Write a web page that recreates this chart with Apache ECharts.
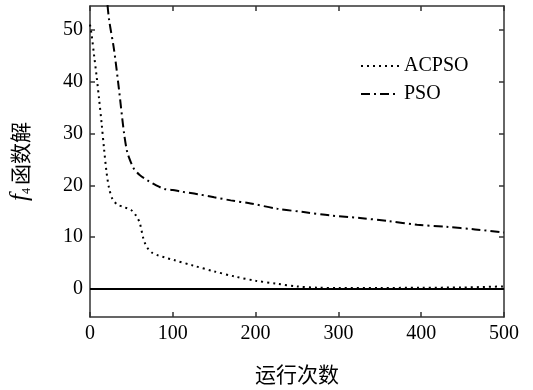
<!DOCTYPE html>
<html>
<head>
<meta charset="utf-8">
<script src="https://cdn.jsdelivr.net/npm/echarts@6/dist/echarts.min.js"></script>
<style>
html,body{margin:0;padding:0;background:#fff;}
#c{width:533px;height:390px;}
</style>
</head>
<body>
<div id="c"></div>
<script>
// Data
const acpsoX = [0, 2, 5, 8, 11, 14, 17, 20, 23, 27, 33, 41, 50, 55, 60, 64, 67, 70, 75, 82, 90, 101, 125, 150, 175, 200, 226, 250, 275, 300, 350, 400, 450, 500];
const acpsoY = [51, 49, 45, 41, 36.6, 32, 27, 22.5, 19.5, 17.4, 16.3, 15.8, 15.2, 14.3, 12.8, 10, 8.6, 7.8, 7.0, 6.5, 6.1, 5.6, 4.5, 3.4, 2.4, 1.6, 1.0, 0.5, 0.25, 0.2, 0.2, 0.25, 0.3, 0.5];
const psoX = [15, 20, 23, 29, 35, 41, 45, 50, 53, 60, 70, 80, 90, 100, 110, 130, 150, 170, 194, 226, 260, 290, 326, 360, 395, 430, 465, 500];
const psoY = [62, 56.5, 52, 46.2, 38.5, 30.2, 26.4, 24.2, 23.2, 22, 20.9, 20, 19.3, 19.1, 18.8, 18.3, 17.7, 17.1, 16.5, 15.5, 14.8, 14.2, 13.7, 13.1, 12.4, 12.0, 11.5, 10.9];
const xTicks = [0, 100, 200, 300, 400, 500];
const yTicks = [0, 10, 20, 30, 40, 50];
const seriesNames = ['ACPSO', 'PSO'];

const serif = '"Liberation Serif", "Times New Roman", serif';
const cjk = '"Noto Sans CJK SC", sans-serif';

const axisLineStyle = { color: '#333', width: 1.5 };

const chart = echarts.init(document.getElementById('c'));
chart.setOption({
  animation: false,
  backgroundColor: '#fff',
  color: ['#000', '#000'],
  grid: { left: 89, right: 29, top: 6, bottom: 71 },
  legend: {
    left: 355, top: 51, orient: 'vertical', itemGap: 8,
    itemWidth: 38, itemHeight: 20,
    itemStyle: { opacity: 0 },
    textStyle: { fontFamily: serif, fontSize: 20, color: '#000' },
    data: seriesNames
  },
  xAxis: [{
    type: 'value', min: 0, max: 500, interval: 100,
    name: '运行次数', nameLocation: 'middle', nameGap: 47,
    nameTextStyle: { fontFamily: cjk, fontSize: 21, color: '#000' },
    axisLine: { show: true, onZero: false, lineStyle: axisLineStyle },
    axisTick: { show: true, inside: true, length: 5, lineStyle: axisLineStyle },
    axisLabel: { fontFamily: serif, fontSize: 20, color: '#000', margin: 7 },
    splitLine: { show: false }
  }, {
    type: 'value', min: 0, max: 500, interval: 100, position: 'top',
    axisLine: { show: true, onZero: false, lineStyle: axisLineStyle },
    axisTick: { show: true, inside: true, length: 5, lineStyle: axisLineStyle },
    axisLabel: { show: false }, splitLine: { show: false }
  }],
  yAxis: [{
    type: 'value', min: -5.4, max: 54.6,
    name: '{f|f}{s|4}{c|函数解}', nameLocation: 'middle', nameGap: 57, nameRotate: 90,
    nameTextStyle: {
      rich: {
        f: { fontFamily: serif, fontStyle: 'italic', fontSize: 25, color: '#000' },
        s: { fontFamily: serif, fontSize: 12, color: '#000', verticalAlign: 'bottom', padding: [10, 3, 0, 0] },
        c: { fontFamily: cjk, fontSize: 21, color: '#000' }
      }
    },
    axisLine: { show: true, onZero: false, lineStyle: axisLineStyle },
    axisTick: { show: true, inside: true, length: 5, customValues: yTicks, lineStyle: axisLineStyle },
    axisLabel: { fontFamily: serif, fontSize: 20, color: '#000', margin: 7, customValues: yTicks },
    splitLine: { show: false }
  }, {
    type: 'value', min: -5.4, max: 54.6, position: 'right',
    axisLine: { show: true, onZero: false, lineStyle: axisLineStyle },
    axisTick: { show: true, inside: true, length: 5, customValues: yTicks, lineStyle: axisLineStyle },
    axisLabel: { show: false, customValues: yTicks }, splitLine: { show: false }
  }],
  series: [{
    name: seriesNames[0], type: 'line', xAxisIndex: 0, yAxisIndex: 0,
    data: acpsoX.map((x, i) => [x, acpsoY[i]]),
    showSymbol: false, symbol: 'none', clip: true, smooth: 0.3,
    itemStyle: { color: '#000' },
    lineStyle: { color: '#000', width: 2, type: [2, 4] },
    markLine: {
      silent: true, symbol: 'none', label: { show: false },
      lineStyle: { color: '#000', width: 2, type: 'solid' },
      data: [{ yAxis: 0 }]
    }
  }, {
    name: seriesNames[1], type: 'line', xAxisIndex: 0, yAxisIndex: 0,
    data: psoX.map((x, i) => [x, psoY[i]]),
    showSymbol: false, symbol: 'none', clip: true, smooth: 0.3,
    itemStyle: { color: '#000' },
    lineStyle: { color: '#000', width: 2, type: [9, 4, 2, 4] }
  }]
});
</script>
</body>
</html>
